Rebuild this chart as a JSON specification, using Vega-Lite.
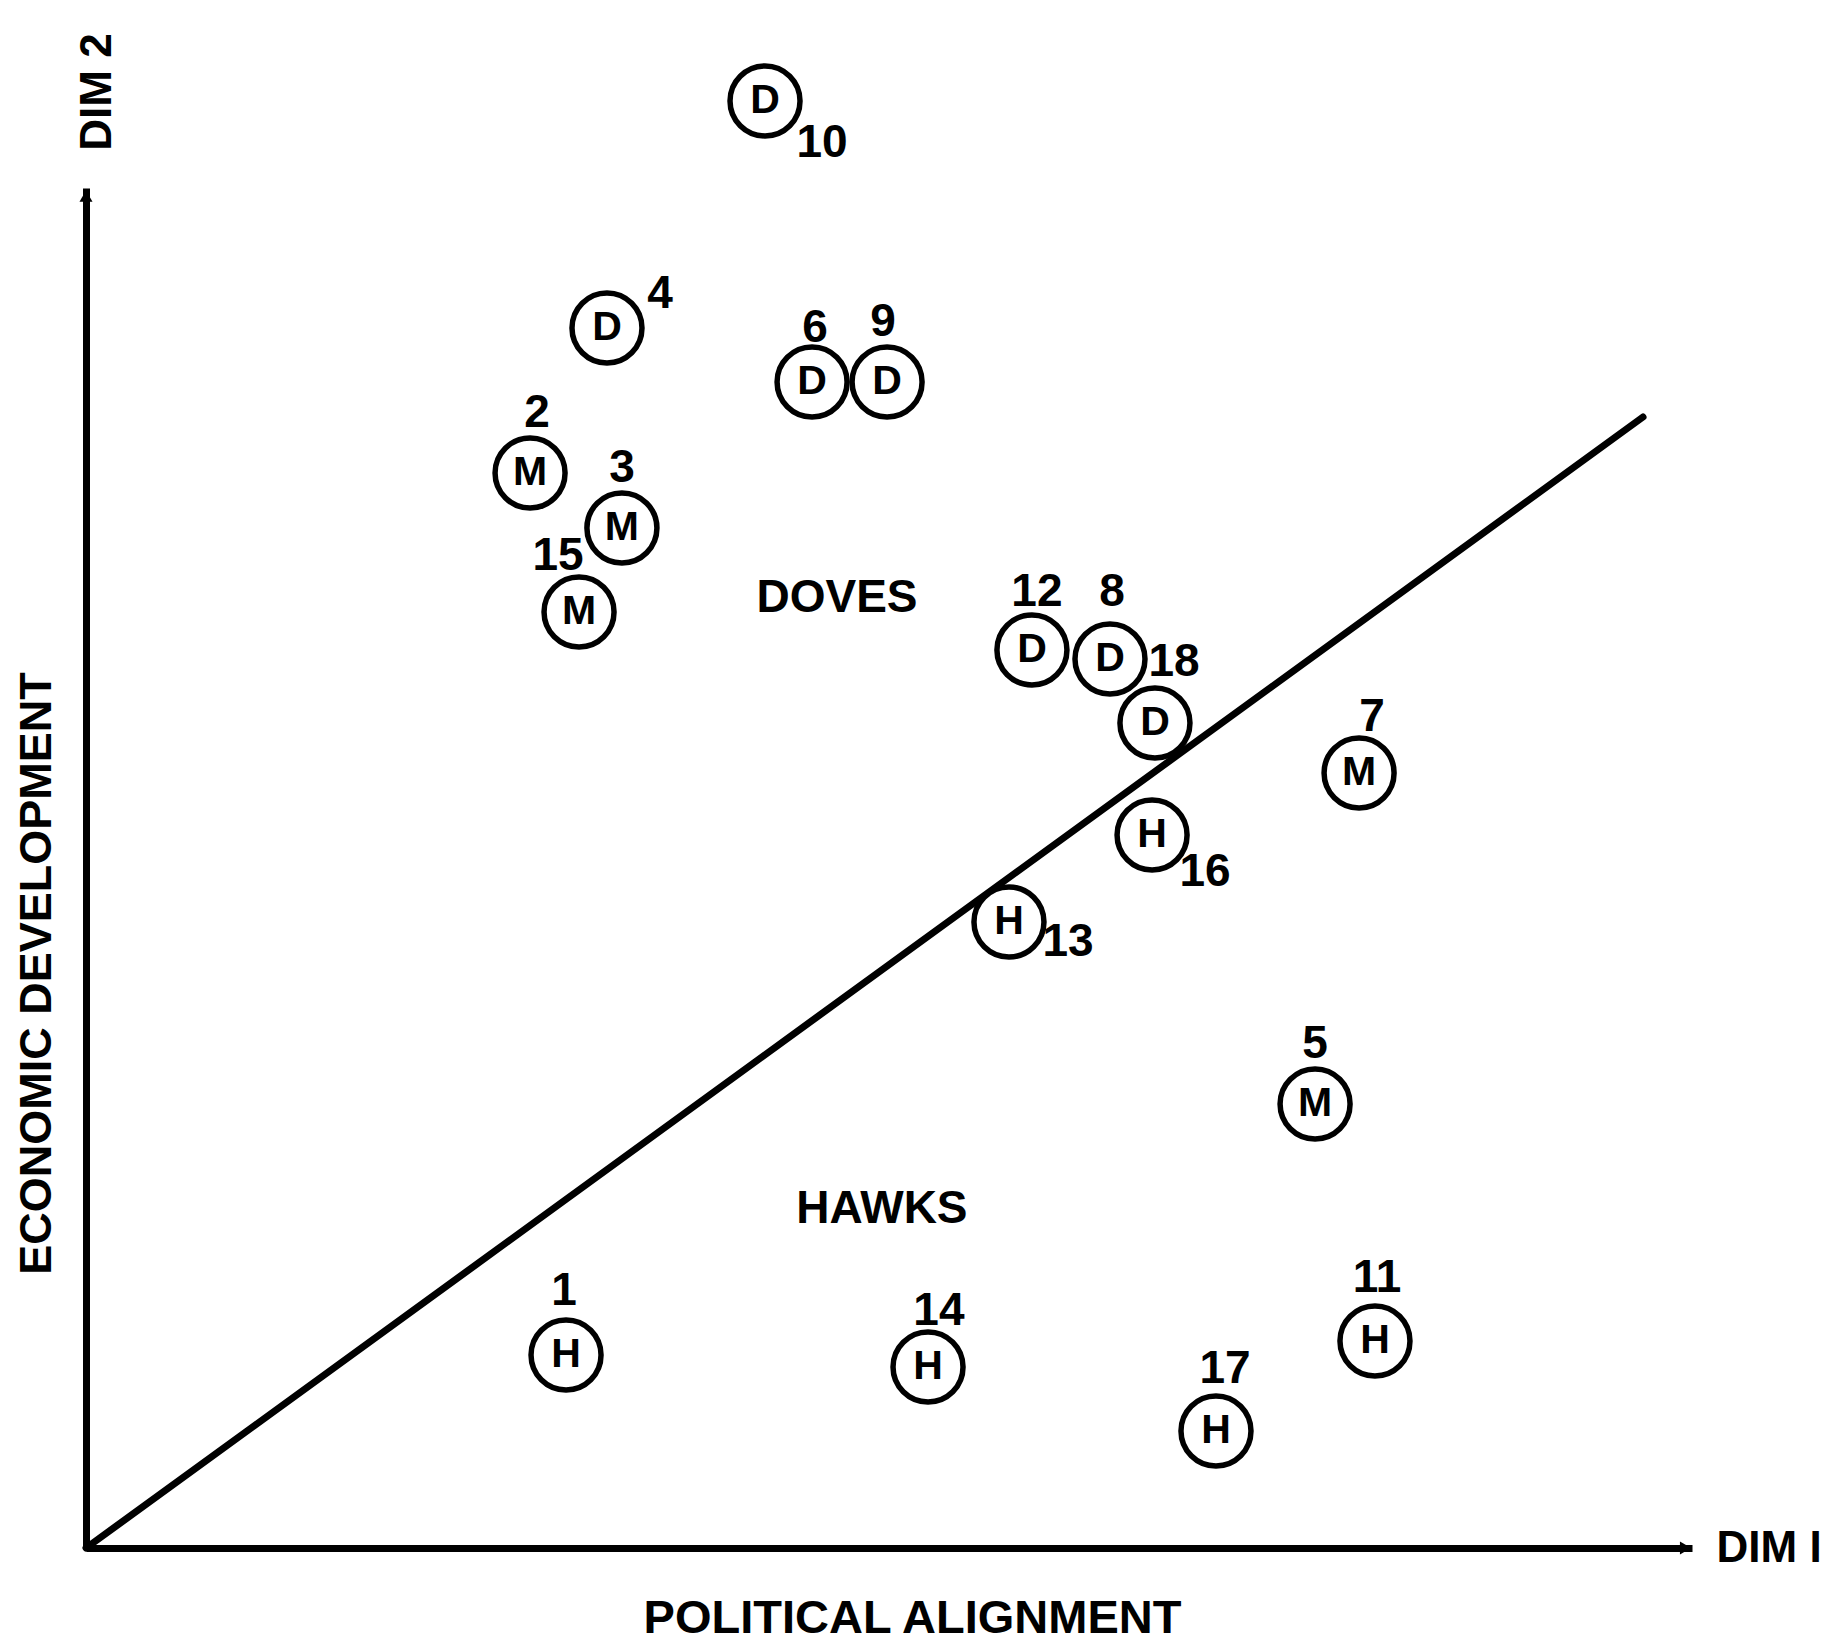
{
  "$schema": "https://vega.github.io/schema/vega-lite/v6.json",
  "width": 1606,
  "height": 1360,
  "autosize": "none",
  "padding": {"left": 86, "top": 188, "right": 142, "bottom": 97},
  "background": "white",
  "config": {"view": {"stroke": null}, "font": "Liberation Sans"},
  "encoding": {
    "x": {
      "field": "x", "type": "quantitative",
      "scale": {"domain": [0, 100], "nice": false, "zero": false},
      "axis": {
        "title": "POLITICAL ALIGNMENT", "domain": true, "domainColor": "black", "domainWidth": 7,
        "ticks": false, "labels": false, "grid": false,
        "titleFont": "Liberation Sans", "titleFontSize": 47, "titleFontWeight": "bold", "titleColor": "black",
        "titleX": 826, "titleY": 70, "titleBaseline": "middle", "titleAlign": "center"
      }
    },
    "y": {
      "field": "y", "type": "quantitative",
      "scale": {"domain": [0, 100], "nice": false, "zero": false},
      "axis": {
        "title": "ECONOMIC DEVELOPMENT", "domain": true, "domainColor": "black", "domainWidth": 7,
        "ticks": false, "labels": false, "grid": false,
        "titleFont": "Liberation Sans", "titleFontSize": 45, "titleFontWeight": "bold", "titleColor": "black",
        "titleAngle": 270, "titleX": -50, "titleY": 785, "titleBaseline": "middle", "titleAlign": "center"
      }
    }
  },
  "layer": [
    {
      "data": {"values": [{"x": 0, "y": 0}, {"x": 96.95, "y": 83.16}]},
      "mark": {"type": "line", "color": "black", "strokeWidth": 7, "strokeCap": "round"}
    },
    {
      "data": {"values": [
        {"x": 0, "y": 99.4, "shape": "triangle-up"},
        {"x": 99.6, "y": 0, "shape": "triangle-right"}
      ]},
      "mark": {"type": "point", "filled": true, "color": "black", "size": 170, "opacity": 1},
      "encoding": {"shape": {"field": "shape", "type": "nominal", "scale": null, "legend": null}}
    },
    {
      "data": {"name": "countries", "values": [
        {"id": "10", "party": "D", "x": 42.28, "y": 106.40, "lx": 45.83, "ly": 103.31},
        {"id": "4", "party": "D", "x": 32.44, "y": 89.71, "lx": 35.74, "ly": 92.21},
        {"id": "6", "party": "D", "x": 45.21, "y": 85.74, "lx": 45.39, "ly": 89.71},
        {"id": "9", "party": "D", "x": 49.88, "y": 85.74, "lx": 49.63, "ly": 90.15},
        {"id": "2", "party": "M", "x": 27.65, "y": 79.04, "lx": 28.08, "ly": 83.46},
        {"id": "3", "party": "M", "x": 33.37, "y": 75.00, "lx": 33.37, "ly": 79.41},
        {"id": "15", "party": "M", "x": 30.70, "y": 68.82, "lx": 29.39, "ly": 72.94},
        {"id": "12", "party": "D", "x": 58.90, "y": 66.03, "lx": 59.21, "ly": 70.29},
        {"id": "8", "party": "D", "x": 63.76, "y": 65.37, "lx": 63.89, "ly": 70.29},
        {"id": "18", "party": "D", "x": 66.56, "y": 60.66, "lx": 67.75, "ly": 65.15},
        {"id": "7", "party": "M", "x": 79.27, "y": 56.99, "lx": 80.07, "ly": 61.10},
        {"id": "16", "party": "H", "x": 66.38, "y": 52.43, "lx": 69.68, "ly": 49.71},
        {"id": "13", "party": "H", "x": 57.47, "y": 46.03, "lx": 61.15, "ly": 44.56},
        {"id": "5", "party": "M", "x": 76.53, "y": 32.65, "lx": 76.53, "ly": 37.06},
        {"id": "1", "party": "H", "x": 29.89, "y": 14.19, "lx": 29.76, "ly": 18.90},
        {"id": "14", "party": "H", "x": 52.43, "y": 13.31, "lx": 53.11, "ly": 17.43},
        {"id": "11", "party": "H", "x": 80.26, "y": 15.22, "lx": 80.39, "ly": 19.85},
        {"id": "17", "party": "H", "x": 70.36, "y": 8.60, "lx": 70.92, "ly": 13.16}
      ]},
      "layer": [
        {
          "mark": {"type": "point", "shape": "circle", "size": 4900, "filled": true, "fill": "white", "stroke": "black", "strokeWidth": 5.5, "opacity": 1, "fillOpacity": 1, "strokeOpacity": 1}
        },
        {
          "mark": {"type": "text", "font": "Liberation Sans", "fontSize": 41, "fontWeight": "bold", "color": "black", "align": "center", "baseline": "middle"},
          "encoding": {"text": {"field": "party", "type": "nominal"}}
        },
        {
          "mark": {"type": "text", "font": "Liberation Sans", "fontSize": 46, "fontWeight": "bold", "color": "black", "align": "center", "baseline": "middle"},
          "encoding": {
            "x": {"field": "lx", "type": "quantitative"},
            "y": {"field": "ly", "type": "quantitative"},
            "text": {"field": "id", "type": "nominal"}
          }
        }
      ]
    },
    {
      "data": {"values": [
        {"text": "DOVES", "x": 46.76, "y": 69.85},
        {"text": "HAWKS", "x": 49.56, "y": 24.93}
      ]},
      "mark": {"type": "text", "font": "Liberation Sans", "fontSize": 46, "fontWeight": "bold", "color": "black", "align": "center", "baseline": "middle"},
      "encoding": {"text": {"field": "text", "type": "nominal"}}
    },
    {
      "data": {"values": [{"text": "DIM I", "x": 104.8, "y": -0.07}]},
      "mark": {"type": "text", "font": "Liberation Sans", "fontSize": 44, "fontWeight": "bold", "color": "black", "align": "center", "baseline": "middle"},
      "encoding": {"text": {"field": "text", "type": "nominal"}}
    },
    {
      "data": {"values": [{"text": "DIM 2", "x": 0.75, "y": 107.06}]},
      "mark": {"type": "text", "font": "Liberation Sans", "fontSize": 44, "fontWeight": "bold", "color": "black", "align": "center", "baseline": "middle", "angle": 270},
      "encoding": {"text": {"field": "text", "type": "nominal"}}
    }
  ]
}
